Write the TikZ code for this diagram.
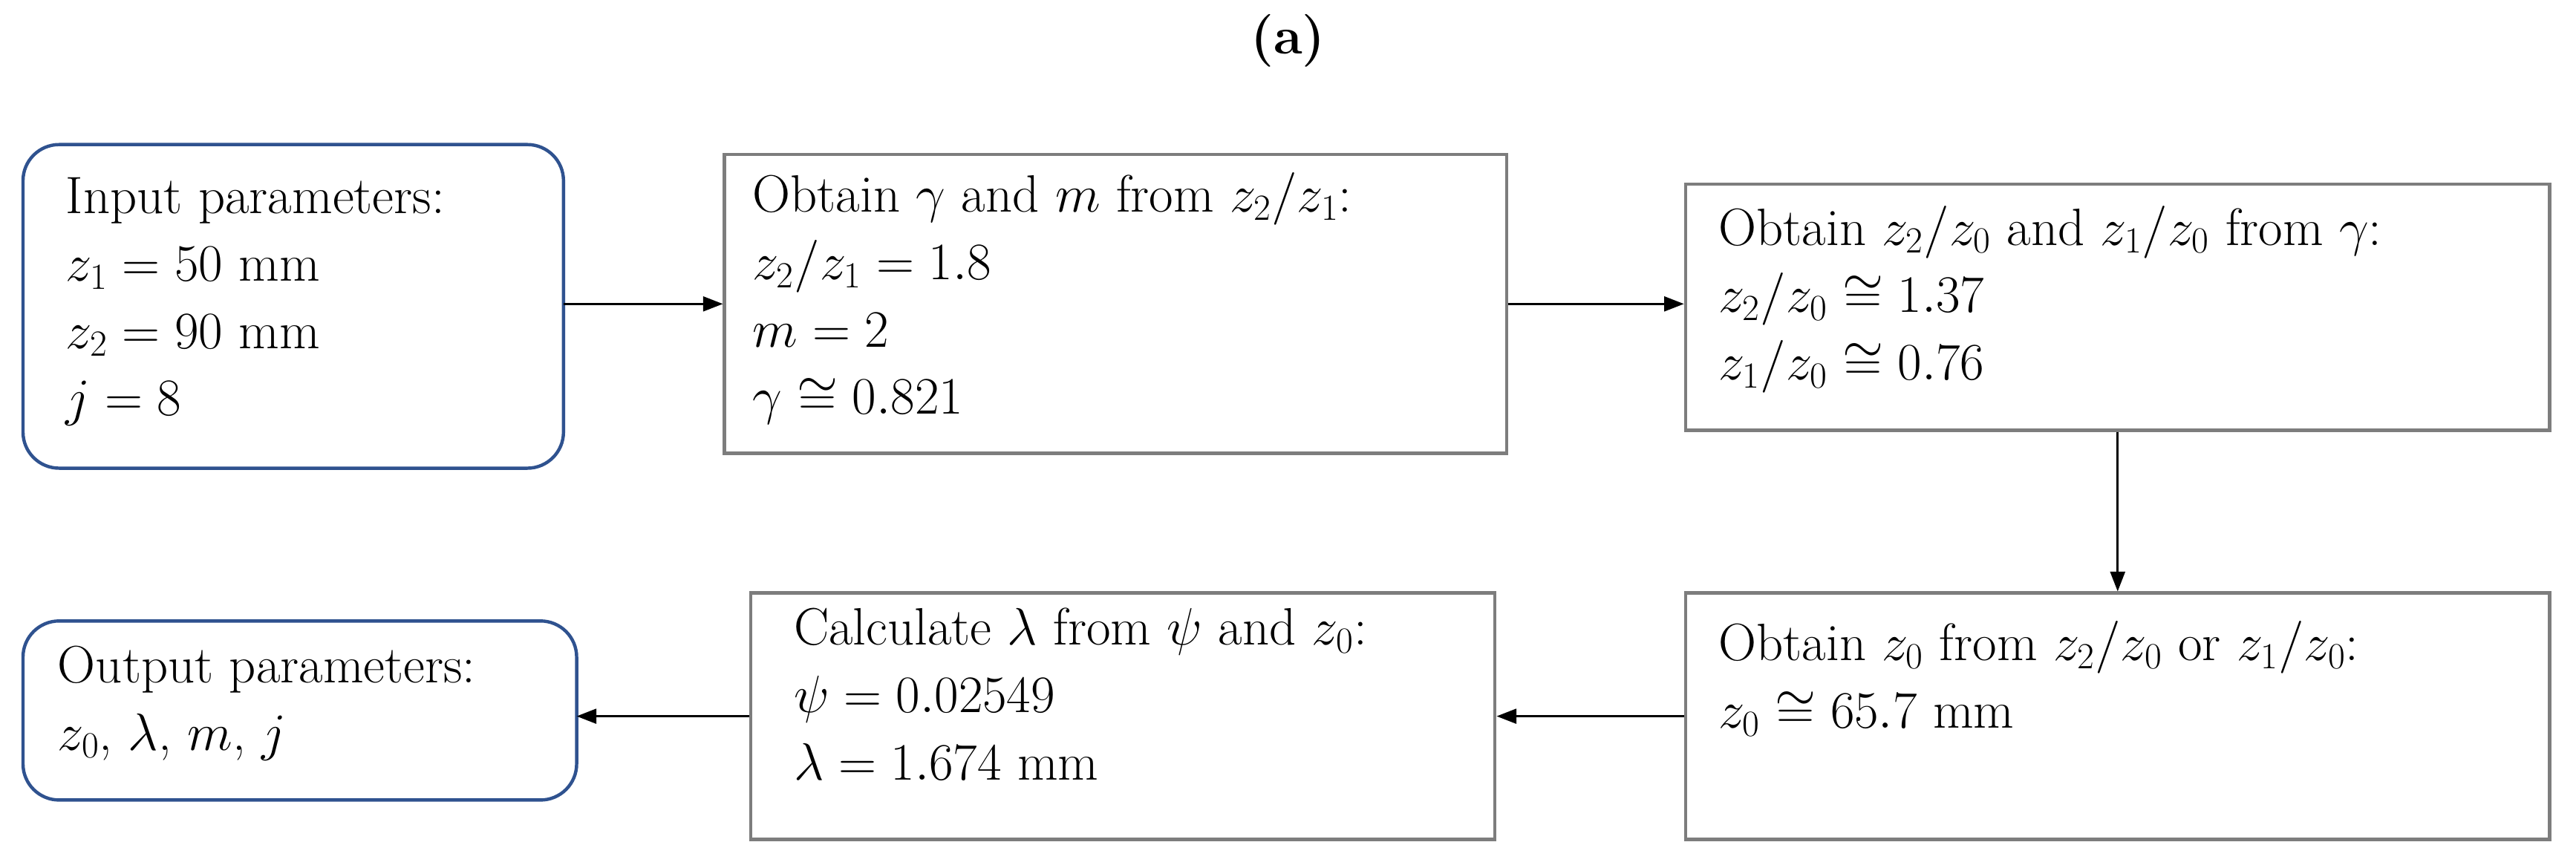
\documentclass[tikz,border=0pt]{standalone}
\usepackage{fix-cm}
\usetikzlibrary{arrows.meta}
\begin{document}
\begin{tikzpicture}[x=1pt,y=-1pt,
 box/.style={draw=boxgray,line width=2pt,inner sep=0pt},
 rbox/.style={draw=boxblue,line width=2pt,rounded corners=22pt,inner sep=0pt},
 txt/.style={anchor=north west,align=left,inner sep=0pt,font=\fontsize{32}{41}\selectfont},
 arr/.style={-{Triangle[length=12pt,width=9pt]},line width=1.2pt}]
\definecolor{boxgray}{RGB}{125,125,125}
\definecolor{boxblue}{RGB}{47,82,143}
\useasboundingbox (0,0) rectangle (1568,528);
\node[font=\fontsize{32}{38}\selectfont\bfseries] (title) at (784,25) {(a)};
\draw[rbox] (14,88) rectangle (343,285);
\coordinate (inE) at (343,185);
\node[box,minimum width=476pt,minimum height=182pt] (b2) at (679,185) {};
\node[box,minimum width=526pt,minimum height=150pt] (b3) at (1289,187) {};
\node[box,minimum width=526pt,minimum height=150pt] (b4) at (1289,436) {};
\node[box,minimum width=453pt,minimum height=150pt] (b5) at (683.5,436) {};
\draw[rbox] (14,378) rectangle (351,487);
\coordinate (outE) at (351,436);
\node[txt] (t1) at (40,108) {Input parameters:\\$z_1=50$ mm\\$z_2=90$ mm\\$j=8$};
\node[txt] (t2) at (458,105) {Obtain $\gamma$ and $m$ from $z_2/z_1$:\\$z_2/z_1=1.8$\\$m=2$\\$\gamma\cong0.821$};
\node[txt] (t3) at (1046,125) {Obtain $z_2/z_0$ and $z_1/z_0$ from $\gamma$:\\$z_2/z_0\cong1.37$\\$z_1/z_0\cong0.76$};
\node[txt] (t4) at (1046,378) {Obtain $z_0$ from $z_2/z_0$ or $z_1/z_0$:\\$z_0\cong65.7$ mm};
\node[txt] (t5) at (483,370) {Calculate $\lambda$ from $\psi$ and $z_0$:\\$\psi=0.02549$\\$\lambda=1.674$ mm};
\node[txt] (t6) at (35,393) {Output parameters:\\$z_0$, $\lambda$, $m$, $j$};
\draw[arr] (inE) -- (b2.west);
\draw[arr] (b2.east) -- (b3.west |- b2.east);
\draw[arr] (b3.south) -- (b4.north);
\draw[arr] (b4.west) -- (b5.east);
\draw[arr] (b5.west) -- (outE);
\end{tikzpicture}
\end{document}
